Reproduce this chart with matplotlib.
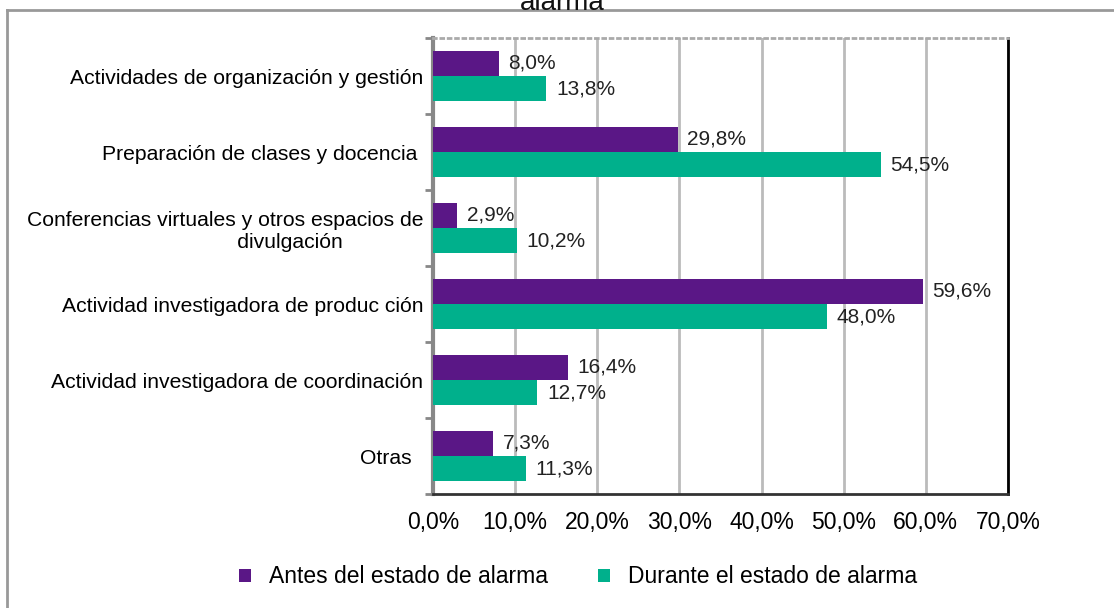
import matplotlib
matplotlib.use('Agg')
import matplotlib.pyplot as plt
from matplotlib.lines import Line2D
import numpy as np

categorias = ['Actividades de organización y gestión',
              'Preparación de clases y docencia ',
              'Conferencias virtuales y otros espacios de\n' + ' ' * 22 + 'divulgación',
              'Actividad investigadora de produc ción',
              'Actividad investigadora de coordinación',
              'Otras  ']
antes = [8.0, 29.8, 2.9, 59.6, 16.4, 7.3]
durante = [13.8, 54.5, 10.2, 48.0, 12.7, 11.3]
ticks_x = [0, 10, 20, 30, 40, 50, 60, 70]

PURPLE = '#5a1786'
TEAL = '#00b08c'

plt.rcParams['font.family'] = ['Liberation Sans', 'DejaVu Sans']

fig = plt.figure(figsize=(11.14, 6.08), dpi=100)
ax = fig.add_axes([0.3887, 0.1875, 0.5161, 0.75])

y = np.arange(len(categorias))
h = 0.33
ax.barh(y - h / 2, antes, height=h, color=PURPLE, label='Antes del estado de alarma', zorder=3)
ax.barh(y + h / 2, durante, height=h, color=TEAL, label='Durante el estado de alarma', zorder=3)

for i in range(len(categorias)):
    ax.annotate(f'{antes[i]:.1f}%'.replace('.', ','), (antes[i], y[i] - h / 2),
                xytext=(7, 0), textcoords='offset points', va='center', ha='left',
                fontsize=15, color='#222222', zorder=4)
    ax.annotate(f'{durante[i]:.1f}%'.replace('.', ','), (durante[i], y[i] + h / 2),
                xytext=(7, 0), textcoords='offset points', va='center', ha='left',
                fontsize=15, color='#222222', zorder=4)

ax.set_xlim(0, 70)
ax.set_ylim(len(categorias) - 0.5, -0.5)
ax.set_xticks(ticks_x)
ax.set_xticklabels([f'{t:.1f}%'.replace('.', ',') for t in ticks_x], fontsize=16.5)
ax.set_yticks(y)
ax.set_yticklabels(categorias, fontsize=15.2, ha='right', multialignment='center')
ax.tick_params(axis='y', length=0, pad=7)
ax.tick_params(axis='x', length=0, pad=12)
ax.set_yticks(np.arange(-0.5, len(categorias)), minor=True)
ax.tick_params(axis='y', which='minor', length=6, width=2, color='#888888', direction='out')

ax.xaxis.grid(True, color='#bbbbbb', linewidth=2, zorder=0)
ax.set_axisbelow(True)

ax.spines['left'].set_color('#888888')
ax.spines['left'].set_linewidth(3)
ax.spines['top'].set_color('#aaaaaa')
ax.spines['top'].set_linestyle(':')
ax.spines['top'].set_linewidth(2)
ax.spines['right'].set_color('black')
ax.spines['right'].set_linewidth(2)
ax.spines['bottom'].set_color('#333333')
ax.spines['bottom'].set_linewidth(2)

fig.legend(loc='center', bbox_to_anchor=(0.519, 0.051), ncol=2, frameon=False,
           fontsize=16.5, handlelength=0.5, handleheight=0.5, columnspacing=2.2,
           handletextpad=0.8)

# outer frame
fig.add_artist(Line2D([0.0063, 0.0063], [0, 0.984], transform=fig.transFigure,
                      color='#999999', linewidth=2))
fig.add_artist(Line2D([0.0063, 1.0], [0.984, 0.984], transform=fig.transFigure,
                      color='#999999', linewidth=2))

# title is cut off at the top in the original
fig.text(0.505, 0.995, 'alarma', ha='center', va='center', fontsize=20, color='#111111')

fig.savefig('out.png', dpi=100)
